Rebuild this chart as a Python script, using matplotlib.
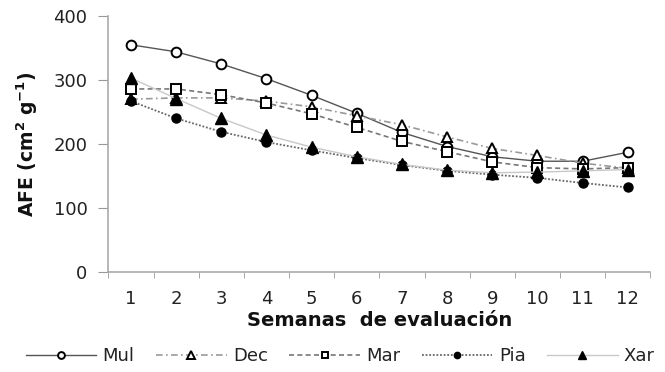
import matplotlib
matplotlib.use("Agg")
import matplotlib.pyplot as plt
import numpy as np

plt.rcParams['font.family'] = ['DejaVu Sans']
plt.rcParams['mathtext.fontset'] = 'custom'
plt.rcParams['mathtext.rm'] = 'DejaVu Sans:bold'

semanas = np.arange(1, 13)
mul = [355, 344, 325, 302, 276, 248, 218, 196, 180, 173, 173, 187]
dec = [270, 272, 272, 267, 258, 244, 230, 211, 193, 182, 170, 162]
mar = [286, 286, 277, 264, 247, 226, 204, 188, 172, 163, 161, 163]
pia = [267, 240, 219, 203, 190, 178, 167, 158, 152, 147, 139, 132]
xar = [303, 271, 240, 214, 195, 180, 168, 159, 155, 156, 158, 160]

fig = plt.figure(figsize=(6.65, 3.72), dpi=100)
ax = fig.add_axes([0.163, 0.269, 0.815, 0.688])

# each cultivar: line style, line colour, marker, marker face
ax.plot(semanas, mul, '-', color='#555555', lw=1.0, marker='o', ms=7,
        mfc='white', mec='black', mew=1.4, label='Mul')
ax.plot(semanas, dec, linestyle=(0, (4, 2, 1, 2)), color='#999999', lw=1.2,
        marker='^', ms=7.5, mfc='white', mec='black', mew=1.4, label='Dec')
ax.plot(semanas, mar, linestyle=(0, (3, 2)), color='#777777', lw=1.2,
        marker='s', ms=7, mfc='white', mec='black', mew=1.4, label='Mar')
ax.plot(semanas, pia, linestyle=(0, (1, 1)), color='#666666', lw=1.3,
        marker='o', ms=6.5, mfc='black', mec='black', label='Pia')
ax.plot(semanas, xar, '-', color='#c8c8c8', lw=1.0,
        marker='^', ms=8, mfc='black', mec='black', label='Xar')

ax.set_xlim(0.5, 12.5)
ax.set_ylim(0, 400)
ax.set_yticks([0, 100, 200, 300, 400])
ax.set_xticks(semanas)
ax.set_xticks(np.arange(0.5, 13, 1), minor=True)
ax.tick_params(axis='x', which='major', length=0, pad=13, labelsize=13,
               labelcolor='#222222')
ax.tick_params(axis='x', which='minor', length=4, color='#999999', direction='out')
ax.tick_params(axis='y', length=7, color='#999999', direction='out', pad=8,
               labelsize=13, labelcolor='#222222')

for s in ['top', 'right']:
    ax.spines[s].set_visible(False)
for s in ['left', 'bottom']:
    ax.spines[s].set_color('#aaaaaa')
    ax.spines[s].set_linewidth(1.2)

ax.set_xlabel('Semanas  de evaluación', fontsize=14, fontweight='bold',
              labelpad=2, color='#111111')
ax.set_ylabel(r'AFE (cm$^{2}$ g$^{-1}$)', fontsize=13.5, fontweight='bold',
              labelpad=10, color='#111111')

ax.legend(loc='center', bbox_to_anchor=(0.428, -0.33), ncol=5, frameon=False,
          fontsize=13, handlelength=3.9, columnspacing=1.2, handletextpad=0.35,
          numpoints=1, markerscale=0.7, labelcolor='#222222')

fig.savefig('out.png', dpi=100)
